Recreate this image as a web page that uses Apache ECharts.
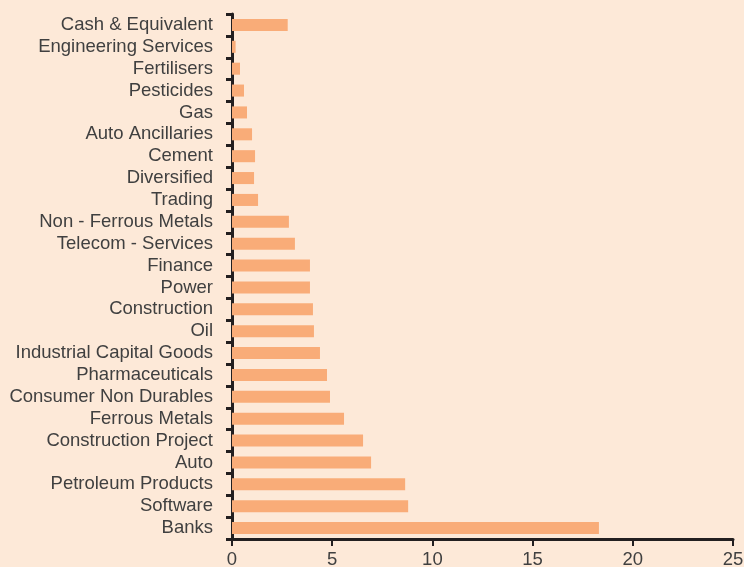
<!DOCTYPE html>
<html>
<head>
<meta charset="utf-8">
<script src="https://cdn.jsdelivr.net/npm/echarts@6/dist/echarts.min.js"></script>
<style>
html,body{margin:0;padding:0;background:#FDE9D8;}
#c{width:744px;height:567px;}
</style>
</head>
<body>
<div id="c"></div>
<script>
const categories = ["Cash & Equivalent","Engineering Services","Fertilisers","Pesticides","Gas","Auto Ancillaries","Cement","Diversified","Trading","Non - Ferrous Metals","Telecom - Services","Finance","Power","Construction","Oil","Industrial Capital Goods","Pharmaceuticals","Consumer Non Durables","Ferrous Metals","Construction Project","Auto","Petroleum Products","Software","Banks"];
const values = [2.78,0.18,0.40,0.60,0.75,1.00,1.15,1.10,1.30,2.84,3.14,3.89,3.89,4.04,4.09,4.39,4.74,4.89,5.59,6.54,6.94,8.64,8.79,18.31];
const xTicks = {min:0, max:25, interval:5};

const chart = echarts.init(document.getElementById('c'));
const textColor = '#404040';
const axisColor = '#231F20';
const font = 'Liberation Sans, Arial, Helvetica, sans-serif';
chart.setOption({
  backgroundColor:'#FDE9D8',
  animation:false,
  grid:{left:232,right:11,top:14,bottom:28,containLabel:false,outerBoundsMode:'none'},
  xAxis:{
    type:'value', min:xTicks.min, max:xTicks.max, interval:xTicks.interval,
    splitLine:{show:false},
    axisLine:{show:true,lineStyle:{color:axisColor,width:3}},
    axisTick:{show:true,length:7,lineStyle:{color:axisColor,width:2}},
    axisLabel:{color:textColor,fontSize:18.5,fontFamily:font,margin:11}
  },
  yAxis:{
    type:'category', data:categories, inverse:true,
    axisLine:{show:true,lineStyle:{color:axisColor,width:3}},
    axisTick:{show:true,length:6,interval:0,lineStyle:{color:axisColor,width:3}},
    axisLabel:{color:textColor,fontSize:18.5,fontFamily:font,margin:19,interval:0,hideOverlap:false}
  },
  series:[{
    type:'bar', data:values,
    barCategoryGap:'45%',
    itemStyle:{color:'#F9AC78'}
  }]
});
</script>
</body>
</html>
